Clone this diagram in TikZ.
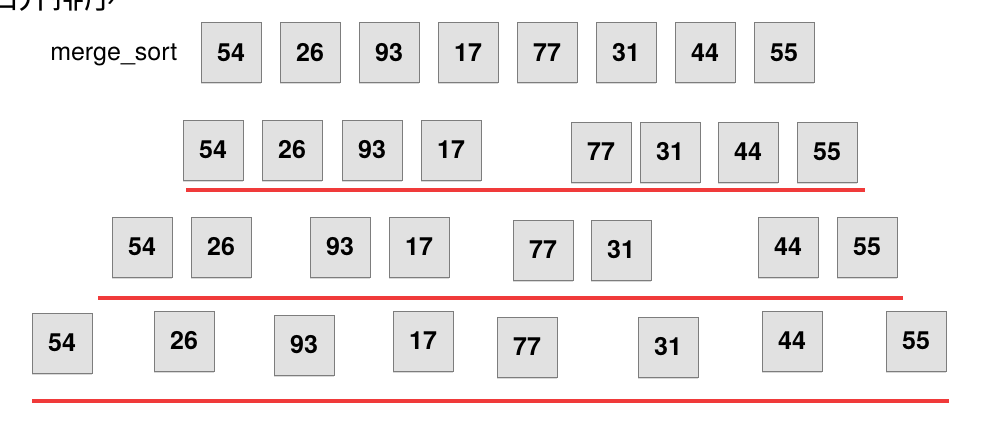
\documentclass[tikz,border=0pt]{standalone}
\usepackage{fontspec}
\setmainfont{TeX Gyre Heros}
\newfontfamily\cjk{Noto Sans CJK SC}
\usetikzlibrary{positioning,shadows}
\definecolor{boxline}{RGB}{125,125,125}
\definecolor{boxfill}{RGB}{225,225,225}
\definecolor{cutred}{RGB}{240,58,58}

\tikzset{
  num/.style={draw=boxline, line width=1pt, fill=boxfill, minimum size=60pt,
    inner sep=0pt, font=\fontsize{25}{30}\selectfont\bfseries,
    drop shadow={shadow xshift=0.3pt, shadow yshift=-1.5pt, opacity=0.3}},
  cut/.style={draw=cutred, line width=3.5pt},
}

\begin{document}
\begin{tikzpicture}[x=1pt, y=-1pt]
  \useasboundingbox (0,0) rectangle (994,428);

  % title, cut off at the top
  \node[anchor=base west, inner sep=0pt, font=\cjk\fontsize{33}{33}\selectfont] (title) at (-14.5,9) {归并排序}; %

  % whole list
  \node[num]                    (a1) at (231,53) {54}; %
  \node[num, right=18pt of a1]  (a2) {26}; %
  \node[num, right=18pt of a2]  (a3) {93}; %
  \node[num, right=18pt of a3]  (a4) {17}; %
  \node[num, right=18pt of a4]  (a5) {77}; %
  \node[num, right=18pt of a5]  (a6) {31}; %
  \node[num, right=18pt of a6]  (a7) {44}; %
  \node[num, right=18pt of a7]  (a8) {55}; %
  \node[left=23pt of a1, yshift=-2pt, inner sep=0pt, font=\fontsize{25}{30}\selectfont] (call) {merge\_sort}; %

  % halves
  \node[num]                    (b1) at (213,150) {54}; %
  \node[num, right=18pt of b1]  (b2) {26}; %
  \node[num, right=19pt of b2]  (b3) {93}; %
  \node[num, right=18pt of b3]  (b4) {17}; %
  \node[num, right=89pt of b4, yshift=-2pt] (b5) {77}; %
  \node[num, right=8pt of b5]   (b6) {31}; %
  \node[num, right=17pt of b6]  (b7) {44}; %
  \node[num, right=18pt of b7]  (b8) {55}; %

  % quarters
  \node[num]                    (c1) at (142,247) {54}; %
  \node[num, right=18pt of c1]  (c2) {26}; %
  \node[num, right=58pt of c2]  (c3) {93}; %
  \node[num, right=18pt of c3]  (c4) {17}; %
  \node[num, right=63pt of c4, yshift=-3pt] (c5) {77}; %
  \node[num, right=17pt of c5]  (c6) {31}; %
  \node[num, right=106pt of c6, yshift=3pt] (c7) {44}; %
  \node[num, right=18pt of c7]  (c8) {55}; %

  % single items
  \node[num]                    (d1) at (62,343) {54}; %
  \node[num, right=61pt of d1, yshift=2pt]  (d2) {26}; %
  \node[num, right=59pt of d2, yshift=-4pt] (d3) {93}; %
  \node[num, right=58pt of d3, yshift=4pt]  (d4) {17}; %
  \node[num, right=43pt of d4, yshift=-6pt] (d5) {77}; %
  \node[num, right=80pt of d5]  (d6) {31}; %
  \node[num, right=63pt of d6, yshift=6pt]  (d7) {44}; %
  \node[num, right=63pt of d7]  (d8) {55}; %

  % red lines under each level
  \coordinate (s1w) at (186,190); \coordinate (s1e) at (865,190);
  \coordinate (s2w) at (98,298);  \coordinate (s2e) at (903,298);
  \coordinate (s3w) at (32,401);  \coordinate (s3e) at (949,401);
  \draw[cut] (s1w) -- (s1e);
  \draw[cut] (s2w) -- (s2e);
  \draw[cut] (s3w) -- (s3e);

\end{tikzpicture}
\end{document}
